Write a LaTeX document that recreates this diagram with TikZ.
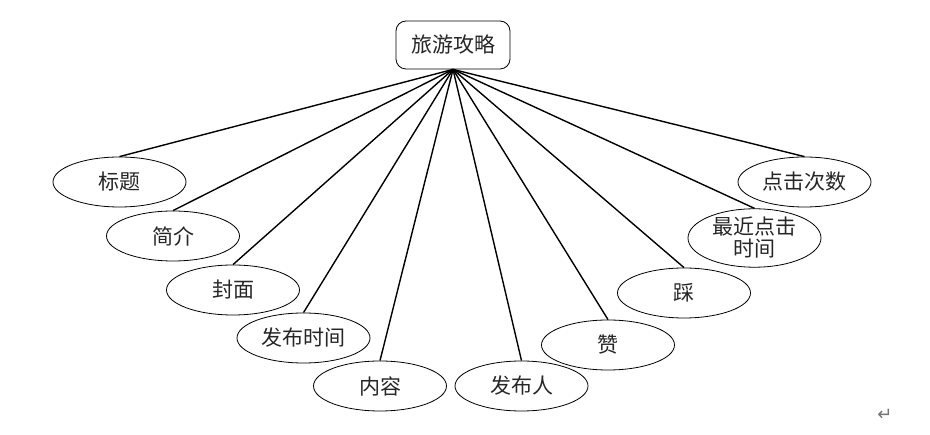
\documentclass[tikz,border=0pt]{standalone}
\usepackage{fontspec}
\newfontfamily\cjk{Noto Sans CJK SC}
\newfontfamily\symfont{DejaVu Sans}
\usetikzlibrary{shapes.geometric}
\begin{document}
\begin{tikzpicture}[x=1pt, y=-1pt,
        every node/.style={font=\cjk\fontsize{21}{22}\selectfont, text=black!85},
        attr/.style={ellipse, draw, line width=0.8pt, minimum width=133pt, minimum height=50pt, inner sep=0pt, align=center},
        entity/.style={rectangle, rounded corners=10pt, draw, line width=0.8pt, minimum width=114pt, minimum height=48pt}]
            \useasboundingbox (0,0) rectangle (930,435);
            \node[entity] (R) at (453,45) {旅游攻略};
            \node[attr] (A) at (119.5,182) {标题};
            \node[attr] (B) at (173,236) {简介};
            \node[attr] (C) at (233,290) {封面};
            \node[attr] (D) at (303.5,338) {发布时间};
            \node[attr] (E) at (380,386) {内容};
            \node[attr] (F) at (521.5,386) {发布人};
            \node[attr] (G) at (608,345) {赞};
            \node[attr] (H) at (684,293) {踩};
            \node[attr] (I) at (754.5,238) {\fontsize{21}{24}\selectfont 最近点击\\时间};
            \node[attr] (J) at (804.5,182) {点击次数};
            \node[font=\symfont\fontsize{18}{18}\selectfont, text=black!55] (P) at (885,415) {↵};
            \path [-, line width=1.4pt] (R.south) edge (A.north);
            \path [-, line width=1.4pt] (R.south) edge (B.north);
            \path [-, line width=1.4pt] (R.south) edge (C.north);
            \path [-, line width=1.4pt] (R.south) edge (D.north);
            \path [-, line width=1.4pt] (R.south) edge (E.north);
            \path [-, line width=1.4pt] (R.south) edge (F.north);
            \path [-, line width=1.4pt] (R.south) edge (G.north);
            \path [-, line width=1.4pt] (R.south) edge (H.north);
            \path [-, line width=1.4pt] (R.south) edge (I.north);
            \path [-, line width=1.4pt] (R.south) edge (J.north);
        \end{tikzpicture}
\end{document}
